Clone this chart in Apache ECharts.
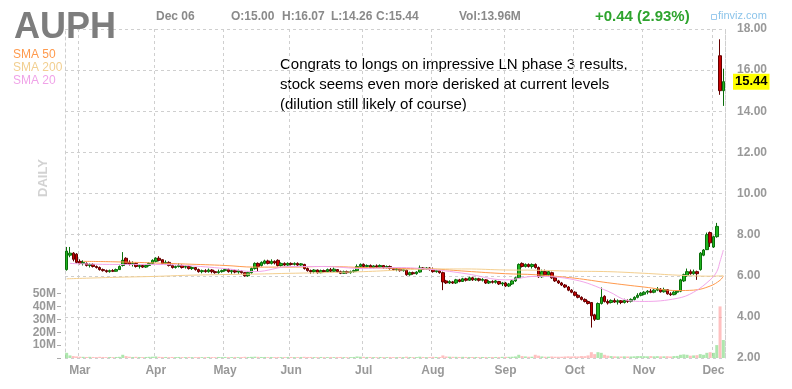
<!DOCTYPE html>
<html><head><meta charset="utf-8">
<script src="https://cdn.jsdelivr.net/npm/echarts@6/dist/echarts.min.js"></script>
<style>html,body{margin:0;padding:0;background:#fff}#c{width:792px;height:389px}</style>
</head><body><div id="c"></div>
<script>
// ---------- categories ----------
const firstDay = '2021-02-23', lastDay = '2021-12-06';
const holidays = ['2021-04-02','2021-05-31','2021-07-05','2021-09-06','2021-11-25'];
const monthNames = ['Jan','Feb','Mar','Apr','May','Jun','Jul','Aug','Sep','Oct','Nov','Dec'];

// ---------- OHLC rows: [open, close, high, low] ----------
const feb = [[6.3,7.2,7.4,6.25],[7.0,7.1,7.4,6.9],[7.1,6.8,7.15,6.7],[7.05,6.65,7.1,6.6]];
const mar = [[6.7,6.6,6.8,6.55],[6.6,6.65,6.75,6.5],[6.6,6.5,6.65,6.45],[6.5,6.55,6.6,6.4],[6.55,6.45,6.6,6.4],[6.45,6.4,6.5,6.35],[6.4,6.3,6.45,6.25],[6.3,6.25,6.35,6.2],[6.25,6.2,6.3,6.15],[6.2,6.25,6.3,6.15],[6.25,6.22,6.32,6.18],[6.22,6.3,6.35,6.2],[6.3,6.45,6.5,6.28],[6.5,6.75,7.15,6.45],[6.85,6.6,6.9,6.55],[6.65,6.55,6.75,6.5],[6.55,6.6,6.7,6.45],[6.6,6.45,6.65,6.4],[6.45,6.5,6.55,6.35],[6.5,6.42,6.55,6.38],[6.42,6.5,6.55,6.38],[6.5,6.6,6.65,6.45],[6.6,6.75,6.8,6.55]];
const apr = [[6.7,6.85,6.9,6.65],[6.85,6.75,6.95,6.7],[6.78,6.6,6.8,6.55],[6.6,6.65,6.75,6.55],[6.65,6.5,6.7,6.45],[6.5,6.4,6.55,6.35],[6.4,6.45,6.5,6.35],[6.45,6.5,6.6,6.4],[6.5,6.4,6.55,6.35],[6.42,6.45,6.5,6.35],[6.45,6.35,6.5,6.3],[6.35,6.4,6.45,6.28],[6.4,6.3,6.42,6.25],[6.3,6.2,6.35,6.15],[6.2,6.25,6.3,6.12],[6.25,6.2,6.32,6.15],[6.2,6.28,6.35,6.15],[6.28,6.2,6.32,6.12],[6.2,6.15,6.25,6.1],[6.15,6.2,6.3,6.1],[6.2,6.25,6.3,6.15]];
const may = [[6.25,6.3,6.35,6.2],[6.3,6.2,6.35,6.15],[6.2,6.25,6.3,6.1],[6.25,6.18,6.3,6.12],[6.18,6.25,6.3,6.1],[6.22,6.15,6.28,6.1],[6.15,6.0,6.18,5.95],[6.0,6.15,6.2,5.95],[6.15,6.35,6.4,6.1],[6.35,6.6,6.65,6.3],[6.6,6.45,6.65,6.2],[6.5,6.65,6.7,6.45],[6.6,6.72,6.78,6.55],[6.72,6.6,6.78,6.55],[6.6,6.7,6.8,6.55],[6.7,6.62,6.75,6.55],[6.75,6.5,6.8,6.45],[6.5,6.6,6.65,6.45],[6.6,6.52,6.65,6.48],[6.52,6.6,6.65,6.48]];
const jun = [[6.6,6.55,6.65,6.5],[6.55,6.6,6.65,6.5],[6.6,6.52,6.65,6.48],[6.52,6.58,6.62,6.48],[6.55,6.35,6.58,6.3],[6.35,6.25,6.4,6.2],[6.25,6.2,6.3,6.1],[6.2,6.28,6.32,6.12],[6.28,6.15,6.3,6.1],[6.15,6.25,6.3,6.12],[6.25,6.2,6.3,6.15],[6.2,6.3,6.35,6.15],[6.3,6.22,6.38,6.18],[6.22,6.32,6.4,6.2],[6.3,6.2,6.32,6.15],[6.2,6.12,6.25,6.08],[6.12,6.2,6.25,6.1],[6.2,6.15,6.25,6.1],[6.15,6.2,6.25,6.1],[6.2,6.25,6.3,6.15],[6.25,6.45,6.55,6.2],[6.45,6.55,6.6,6.4]];
const jul = [[6.55,6.45,6.6,6.4],[6.45,6.5,6.55,6.4],[6.5,6.4,6.55,6.35],[6.4,6.48,6.52,6.35],[6.48,6.42,6.55,6.38],[6.42,6.5,6.55,6.38],[6.5,6.4,6.52,6.35],[6.4,6.45,6.5,6.35],[6.45,6.35,6.5,6.3],[6.35,6.3,6.4,6.25],[6.3,6.35,6.38,6.22],[6.32,6.25,6.35,6.2],[6.25,6.3,6.35,6.2],[6.28,6.05,6.3,6.0],[6.05,6.15,6.2,6.0],[6.15,6.1,6.2,6.05],[6.1,6.18,6.22,6.05],[6.18,6.38,6.5,6.15],[6.38,6.32,6.42,6.28],[6.32,6.38,6.42,6.28],[6.38,6.3,6.42,6.25]];
const aug = [[6.3,6.2,6.4,6.15],[6.2,6.25,6.3,6.15],[6.25,6.15,6.28,6.1],[6.15,5.7,6.2,5.3],[5.75,5.65,5.8,5.6],[5.65,5.72,5.78,5.6],[5.7,5.65,5.75,5.6],[5.65,5.8,5.85,5.6],[5.8,5.72,5.85,5.68],[5.72,5.85,5.9,5.7],[5.85,5.78,5.9,5.72],[5.78,5.9,5.95,5.75],[5.9,5.8,5.95,5.75],[5.8,5.85,5.9,5.75],[5.85,5.78,5.9,5.72],[5.78,5.82,5.88,5.72],[5.8,5.65,5.83,5.6],[5.65,5.72,5.78,5.6],[5.72,5.68,5.78,5.62],[5.68,5.75,5.8,5.62],[5.72,5.6,5.75,5.55],[5.6,5.65,5.7,5.5]];
const sep = [[5.65,5.5,5.7,5.45],[5.5,5.6,5.65,5.45],[5.6,5.75,5.8,5.55],[5.75,5.9,5.95,5.7],[5.9,6.55,6.6,5.88],[6.6,6.45,6.65,6.4],[6.45,6.55,6.6,6.4],[6.55,6.45,6.6,6.4],[6.45,6.55,6.6,6.35],[6.55,6.4,6.6,6.35],[6.4,5.95,6.45,5.9],[5.95,6.2,6.3,5.9],[6.2,6.05,6.3,6.0],[6.05,6.2,6.28,5.95],[6.15,5.9,6.2,5.85],[5.9,5.75,5.95,5.7],[5.75,5.65,5.8,5.6],[5.65,5.55,5.7,5.5],[5.55,5.45,5.6,5.4],[5.45,5.3,5.5,5.25],[5.3,5.2,5.35,5.15]];
const oct = [[5.2,5.05,5.25,5.0],[5.05,4.95,5.1,4.9],[4.95,4.85,5.0,4.8],[4.85,4.75,4.9,4.7],[4.75,4.65,4.8,4.6],[4.7,4.05,4.72,3.48],[4.1,3.88,4.15,3.8],[3.88,4.65,4.7,3.85],[4.65,4.95,5.43,4.6],[5.0,4.75,5.05,4.7],[4.75,4.68,4.85,4.6],[4.7,4.8,4.85,4.65],[4.8,4.72,4.9,4.68],[4.72,4.78,4.85,4.6],[4.78,4.7,4.82,4.62],[4.7,4.8,4.88,4.65],[4.8,4.75,4.85,4.68],[4.75,4.85,4.9,4.7],[4.85,4.95,5.0,4.8],[4.95,5.05,5.15,4.9],[5.05,5.15,5.2,5.0]];
const nov = [[5.1,5.2,5.25,5.05],[5.2,5.25,5.3,5.1],[5.25,5.2,5.35,5.15],[5.2,5.3,5.35,5.15],[5.3,5.35,5.45,5.25],[5.35,5.22,5.4,5.18],[5.22,5.32,5.42,5.18],[5.32,5.12,5.35,5.08],[5.12,5.08,5.2,5.02],[5.08,5.2,5.25,5.05],[5.2,5.25,5.3,5.1],[5.25,5.8,5.85,5.2],[5.75,6.05,6.1,5.7],[6.0,6.2,6.35,5.95],[6.2,6.1,6.3,6.05],[6.1,6.2,6.3,6.05],[6.2,6.1,6.25,5.8],[6.3,7.1,7.15,6.25],[7.0,7.25,7.3,6.95],[7.27,8.0,8.1,7.25],[8.1,7.6,8.15,7.4]];
const dec = [[7.4,7.9,7.95,7.35],[7.9,8.4,8.57,7.85],[16.7,15.0,17.5,14.8],[15.0,15.44,16.07,14.26]];

// ---------- volume (millions) ----------
const volFeb = [4.0,2.0,1.5,1.2];
const volMar = [1.0,0.9,0.8,0.9,0.8,0.7,0.9,0.8,0.7,0.8,0.7,0.8,0.9,2.5,1.5,1.0,0.8,0.9,0.8,0.7,0.8,0.9,1.0];
const volApr = [1.2,0.9,0.8,0.8,0.7,0.8,0.7,0.8,0.7,0.7,0.8,0.7,0.7,0.8,0.7,0.7,0.8,0.7,0.7,0.8,0.7];
const volMay = [0.8,0.7,0.7,0.8,0.7,0.7,0.9,0.8,0.9,1.0,0.9,0.8,0.8,0.7,0.8,0.7,0.8,0.7,0.7,0.8];
const volJun = [0.8,0.7,0.7,0.8,0.9,0.8,0.8,0.7,0.7,0.8,0.7,0.7,0.8,0.7,0.8,0.8,0.7,0.7,0.7,0.8,1.2,1.0];
const volJul = [0.9,0.8,0.8,0.7,0.7,0.8,0.7,0.7,0.8,0.7,0.7,0.8,0.7,1.0,0.8,0.7,0.7,1.0,0.8,0.7,0.8];
const volAug = [0.9,0.8,0.8,2.0,1.2,1.0,0.9,0.9,0.8,0.9,0.8,0.8,0.8,0.8,0.7,0.8,0.8,0.7,0.8,0.8,0.8,0.9];
const volSep = [0.9,0.9,1.0,1.2,2.5,1.5,1.2,1.0,1.0,2.5,1.8,1.2,1.0,1.0,1.2,1.0,1.0,1.0,1.2,1.3,1.2];
const volOct = [1.3,1.2,1.5,1.4,2.0,4.5,3.0,4.5,4.0,2.5,1.8,1.5,1.3,1.2,1.2,1.3,1.2,1.2,1.3,1.5,1.5];
const volNov = [1.4,1.3,1.5,1.3,1.4,1.3,1.3,1.4,1.2,1.5,1.6,2.5,2.8,2.5,1.8,2.0,2.2,3.0,2.5,4.0,4.5];
const volDec = [4.0,10.0,40.0,13.96];

// ---------- moving averages: [date, value] ----------
const sma50 = [['2021-03-02',6.7],['2021-03-15',6.68],['2021-04-01',6.62],['2021-04-15',6.57],['2021-05-03',6.5],['2021-05-14',6.42],['2021-06-01',6.42],['2021-06-15',6.45],['2021-07-01',6.4],['2021-07-16',6.36],['2021-08-02',6.33],['2021-08-16',6.22],['2021-09-01',6.1],['2021-09-15',6.05],['2021-10-01',5.88],['2021-10-15',5.66],['2021-11-01',5.45],['2021-11-15',5.28],['2021-11-22',5.3],['2021-11-30',5.5],['2021-12-03',5.78],['2021-12-06',5.98]];
const sma200 = [['2021-02-23',5.85],['2021-03-15',5.92],['2021-04-01',5.97],['2021-04-15',6.02],['2021-05-03',6.06],['2021-05-14',6.08],['2021-06-01',6.12],['2021-06-15',6.15],['2021-07-01',6.2],['2021-07-16',6.27],['2021-08-02',6.33],['2021-08-16',6.33],['2021-09-01',6.28],['2021-09-15',6.27],['2021-10-01',6.22],['2021-10-15',6.2],['2021-11-01',6.12],['2021-11-15',6.03],['2021-11-30',5.98],['2021-12-06',6.0]];
const sma20 = [['2021-02-24',6.6],['2021-03-15',6.55],['2021-04-01',6.55],['2021-04-15',6.5],['2021-05-03',6.35],['2021-05-14',6.2],['2021-06-01',6.45],['2021-06-15',6.45],['2021-07-01',6.35],['2021-07-16',6.4],['2021-08-02',6.3],['2021-08-16',6.1],['2021-09-01',5.8],['2021-09-15',5.97],['2021-10-01',5.8],['2021-10-15',5.25],['2021-10-25',4.8],['2021-11-01',4.75],['2021-11-15',4.9],['2021-11-22',5.2],['2021-11-30',5.8],['2021-12-02',6.2],['2021-12-03',6.7],['2021-12-06',7.25]];

const lastPrice = 15.44;
const priceMin = 2, priceMax = 18, priceStep = 2;
const volMax = 50, volStep = 10;

// ---------- build ----------
function pad(n){return (n<10?'0':'')+n;}
const dates = [];
(function(){
  let d = new Date(firstDay+'T00:00:00Z'); const end = new Date(lastDay+'T00:00:00Z');
  while (d <= end) {
    const s = d.getUTCFullYear()+'-'+pad(d.getUTCMonth()+1)+'-'+pad(d.getUTCDate());
    const wd = d.getUTCDay();
    if (wd !== 0 && wd !== 6 && holidays.indexOf(s) < 0) dates.push(s);
    d = new Date(d.getTime()+86400000);
  }
})();
const monthStart = new Set();
dates.forEach((s,i)=>{ if (i>0 && s.slice(5,7)!==dates[i-1].slice(5,7)) monthStart.add(i); });

const rows = [].concat(feb,mar,apr,may,jun,jul,aug,sep,oct,nov,dec);
const candles = rows.map(r=>[r[0],r[1],r[3],r[2]]);
const vols = [].concat(volFeb,volMar,volApr,volMay,volJun,volJul,volAug,volSep,volOct,volNov,volDec);
const volData = vols.map((v,i)=>({value:v, itemStyle:{color: rows[i][1]>=rows[i][0] ? 'rgba(120,215,120,0.6)' : 'rgba(255,150,150,0.6)'}}));

const FF = '"Liberation Sans", Arial, sans-serif';
const dash = {color:'#cfcfcf', type:[3,3], width:1};
const grey = '#999';

const chart = echarts.init(document.getElementById('c'), null, {renderer:'canvas'});
chart.setOption({
  animation:false,
  backgroundColor:'#fff',
  grid:[{left:65,right:67,top:29,bottom:31},{left:65,right:67,top:293.5,bottom:31}],
  xAxis:[
    {type:'category', gridIndex:0, data:dates, boundaryGap:true,
     axisLine:{show:false}, axisTick:{show:false},
     axisLabel:{interval:(i)=>monthStart.has(i), formatter:(v)=>monthNames[+v.slice(5,7)-1],
       color:grey, fontWeight:'bold', fontSize:12, fontFamily:FF, margin:7},
     splitLine:{show:true, interval:(i)=>monthStart.has(i), lineStyle:dash}},
    {type:'category', gridIndex:1, data:dates, boundaryGap:true, show:false}
  ],
  yAxis:[
    {type:'value', gridIndex:0, position:'right', min:priceMin, max:priceMax, interval:priceStep,
     axisLine:{show:true, lineStyle:dash}, axisTick:{show:false},
     axisLabel:{formatter:(v)=>v.toFixed(2), color:grey, fontWeight:'bold', fontSize:12, fontFamily:FF, margin:12},
     splitLine:{show:true, lineStyle:dash}},
    {type:'value', gridIndex:0, position:'left', min:priceMin, max:priceMax,
     axisLine:{show:true, lineStyle:dash}, axisTick:{show:false}, axisLabel:{show:false}, splitLine:{show:false}},
    {type:'value', gridIndex:1, position:'left', min:0, max:volMax, interval:volStep, offset:4,
     axisLine:{show:false}, axisTick:{show:true, length:4, lineStyle:{color:'#aaa'}},
     axisLabel:{formatter:(v)=>v? v+'M' : '', color:grey, fontWeight:'bold', fontSize:12, fontFamily:FF, margin:5},
     splitLine:{show:false}}
  ],
  series:[
    {type:'bar', name:'Volume', xAxisIndex:1, yAxisIndex:2, data:volData, barWidth:3, z:1},
    {type:'candlestick', name:'AUPH', xAxisIndex:0, yAxisIndex:0, data:candles, barWidth:3, z:2,
     itemStyle:{color:'#1fb51f', color0:'#c80000', borderColor:'#0a6e0a', borderColor0:'#650000', borderWidth:1},
     markLine:{silent:true, symbol:'none', data:[{yAxis:lastPrice}], lineStyle:{color:'rgba(0,0,0,0)', width:1},
       label:{show:true, position:'end', distance:8, formatter:()=>lastPrice.toFixed(2), backgroundColor:'#ffff00', color:'#000',
         fontWeight:'bold', fontSize:13, fontFamily:FF, padding:[2,2,1,2]}}},
    {type:'line', name:'SMA 50', xAxisIndex:0, yAxisIndex:0, data:sma50, smooth:0.4, showSymbol:false, symbol:'none', lineStyle:{color:'#ff9a4d', width:1}, z:3},
    {type:'line', name:'SMA 200', xAxisIndex:0, yAxisIndex:0, data:sma200, smooth:0.4, showSymbol:false, symbol:'none', lineStyle:{color:'#f4cf8f', width:1}, z:3},
    {type:'line', name:'SMA 20', xAxisIndex:0, yAxisIndex:0, data:sma20, smooth:0.4, showSymbol:false, symbol:'none', lineStyle:{color:'#f2a6ea', width:1}, z:3}
  ],
  graphic:[
    {type:'text', left:14, top:10, z:10, style:{text:'AUPH', font:'bold 36px '+FF, fill:'#7d7d7d'}},
    {type:'text', left:156, top:11, style:{text:'Dec 06', font:'bold 12px '+FF, fill:'#8a8a8a'}},
    {type:'text', left:231, top:11, style:{text:'O:15.00', font:'bold 12px '+FF, fill:'#8a8a8a'}},
    {type:'text', left:282, top:11, style:{text:'H:16.07', font:'bold 12px '+FF, fill:'#8a8a8a'}},
    {type:'text', left:331, top:11, style:{text:'L:14.26', font:'bold 12px '+FF, fill:'#8a8a8a'}},
    {type:'text', left:376, top:11, style:{text:'C:15.44', font:'bold 12px '+FF, fill:'#8a8a8a'}},
    {type:'text', left:459, top:11, style:{text:'Vol:13.96M', font:'bold 12px '+FF, fill:'#8a8a8a'}},
    {type:'text', left:595, top:9, style:{text:'+0.44 (2.93%)', font:'bold 15px '+FF, fill:'#2ea42e'}},
    {type:'rect', left:709, top:12, shape:{width:5, height:5}, style:{fill:'none', stroke:'#9ccbee', lineWidth:1}},
    {type:'text', left:718, top:10, style:{text:'finviz.com', font:'11px '+FF, fill:'#8cc4ea'}},
    {type:'text', left:13, top:49, style:{text:'SMA 50', font:'12px '+FF, fill:'#ff9a4d'}},
    {type:'text', left:13, top:62, style:{text:'SMA 200', font:'12px '+FF, fill:'#f2cf90'}},
    {type:'text', left:13, top:75, style:{text:'SMA 20', font:'12px '+FF, fill:'#f0a3e8'}},
    {type:'text', x:43, y:178, rotation:Math.PI/2, style:{text:'DAILY', font:'bold 13px '+FF, fill:'#d2d2d2', align:'center', verticalAlign:'middle'}},
    {type:'text', left:280, top:55, style:{text:'Congrats to longs on impressive LN phase 3 results,\nstock seems even more derisked at current levels\n(dilution still likely of course)', font:'15px '+FF, fill:'#000', lineHeight:20}}
  ]
});
</script></body></html>
